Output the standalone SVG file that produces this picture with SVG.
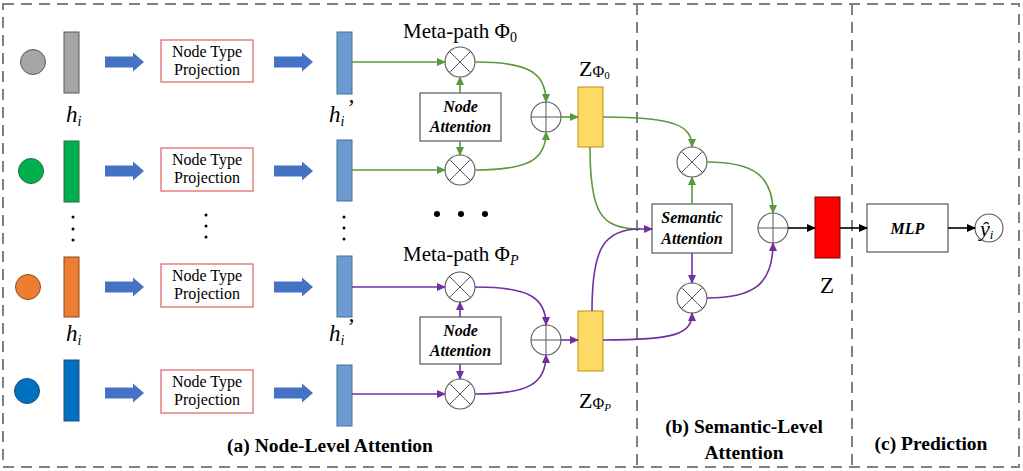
<svg xmlns="http://www.w3.org/2000/svg" width="1023" height="471" viewBox="0 0 1023 471">
<defs>
<style>
.frame{fill:none;stroke:#808080;stroke-width:2;stroke-dasharray:11 7}
text{font-family:"Liberation Serif","Times New Roman",serif;fill:#000}
.ntp{font-size:16px;text-anchor:middle}
.bi{font-weight:bold;font-style:italic;font-size:16px;text-anchor:middle}
.title{font-weight:bold;font-size:19.5px;text-anchor:middle}
.ntpbox{fill:#fff;stroke:#e06c6c;stroke-width:1.3}
.abox{fill:#fff;stroke:#595959;stroke-width:1.2}
.op{fill:#fff;stroke:#595959;stroke-width:1.1}
.opl{stroke:#595959;stroke-width:1}
.barh{fill:#6d9bd1;stroke:#41719c;stroke-width:1}
.barz{fill:#ffd966;stroke:#bf9000;stroke-width:1}
.blk{fill:#4472c4}
.g{fill:none;stroke:#5a9a3c;stroke-width:1.6}
.p{fill:none;stroke:#7030a0;stroke-width:1.6}
.k{fill:none;stroke:#000;stroke-width:1.6}
.dot{fill:#000}
</style>
<marker id="mg" markerWidth="9" markerHeight="8" refX="8" refY="4" orient="auto" markerUnits="userSpaceOnUse"><path d="M0,0 L9,4 L0,8 Z" fill="#5a9a3c"/></marker>
<marker id="mp" markerWidth="9" markerHeight="8" refX="8" refY="4" orient="auto" markerUnits="userSpaceOnUse"><path d="M0,0 L9,4 L0,8 Z" fill="#7030a0"/></marker>
<marker id="mk" markerWidth="9" markerHeight="8" refX="8" refY="4" orient="auto" markerUnits="userSpaceOnUse"><path d="M0,0 L9,4 L0,8 Z" fill="#000"/></marker>
<g id="otimes"><circle class="op" cx="0" cy="0" r="15"/><path class="opl" d="M-10.6,-10.6 L10.6,10.6 M-10.6,10.6 L10.6,-10.6"/></g>
<g id="oplus"><circle class="op" cx="0" cy="0" r="15"/><path class="opl" d="M-15,0 H15 M0,-15 V15"/></g>
<path id="blkarrow" d="M0,-5.5 H28 V-9.5 L39,0 L28,9.5 V5.5 H0 Z"/>
</defs>

<!-- frames -->
<g id="frames">
<rect class="frame" x="3" y="4" width="1016" height="463"/>
<line class="frame" x1="637" y1="4" x2="637" y2="467"/>
<line class="frame" x1="852" y1="4" x2="852" y2="467"/>
</g>

<!-- input nodes -->
<g id="row1">
<circle cx="33" cy="62" r="12.5" fill="#a5a5a5" stroke="#595959" stroke-width="1"/>
<rect x="64" y="32" width="15" height="61" fill="#a5a5a5" stroke="#595959" stroke-width="1"/>
<use href="#blkarrow" class="blk" x="105" y="62"/>
<rect class="ntpbox" x="161" y="40" width="92" height="42"/>
<text class="ntp" x="207" y="57">Node Type</text>
<text class="ntp" x="207" y="75">Projection</text>
<use href="#blkarrow" class="blk" x="274" y="62"/>
<rect class="barh" x="337" y="32" width="15" height="62"/>
</g>
<g id="row2">
<circle cx="31" cy="171" r="12.5" fill="#00b050" stroke="#2e6b36" stroke-width="1"/>
<rect x="64" y="141" width="15" height="61" fill="#00b050" stroke="#2e6b36" stroke-width="1"/>
<use href="#blkarrow" class="blk" x="105" y="171"/>
<rect class="ntpbox" x="161" y="148" width="92" height="43"/>
<text class="ntp" x="207" y="165">Node Type</text>
<text class="ntp" x="207" y="183">Projection</text>
<use href="#blkarrow" class="blk" x="274" y="171"/>
<rect class="barh" x="337" y="140" width="15" height="61"/>
</g>
<g id="row3">
<circle cx="28" cy="287" r="12.5" fill="#ed7d31" stroke="#8a4a1c" stroke-width="1"/>
<rect x="64" y="257" width="15" height="60" fill="#ed7d31" stroke="#8a4a1c" stroke-width="1"/>
<use href="#blkarrow" class="blk" x="105" y="287"/>
<rect class="ntpbox" x="161" y="264" width="92" height="43"/>
<text class="ntp" x="207" y="281">Node Type</text>
<text class="ntp" x="207" y="299">Projection</text>
<use href="#blkarrow" class="blk" x="274" y="287"/>
<rect class="barh" x="337" y="256" width="15" height="61"/>
</g>
<g id="row4">
<circle cx="27" cy="391" r="12.5" fill="#0070c0" stroke="#1f4e79" stroke-width="1"/>
<rect x="64" y="360" width="15" height="61" fill="#0070c0" stroke="#1f4e79" stroke-width="1"/>
<use href="#blkarrow" class="blk" x="105" y="393"/>
<rect class="ntpbox" x="161" y="370" width="92" height="43"/>
<text class="ntp" x="207" y="387">Node Type</text>
<text class="ntp" x="207" y="405">Projection</text>
<use href="#blkarrow" class="blk" x="274" y="393"/>
<rect class="barh" x="337" y="365" width="15" height="61"/>
</g>

<!-- labels h_i -->
<g id="labels-h" font-size="23" font-style="italic">
<text x="66" y="122">h<tspan font-size="14" dy="4">i</tspan></text>
<text x="66" y="341">h<tspan font-size="14" dy="4">i</tspan></text>
<text x="329" y="122">h<tspan font-size="14" dy="4">i</tspan><tspan font-style="normal" dy="-11" dx="3">’</tspan></text>
<text x="329" y="341">h<tspan font-size="14" dy="4">i</tspan><tspan font-style="normal" dy="-11" dx="3">’</tspan></text>
</g>

<!-- ellipsis dots -->
<g id="dots">
<circle class="dot" cx="73" cy="217" r="1.5"/><circle class="dot" cx="73" cy="229" r="1.5"/><circle class="dot" cx="73" cy="240" r="1.5"/>
<circle class="dot" cx="206" cy="215" r="1.5"/><circle class="dot" cx="206" cy="226" r="1.5"/><circle class="dot" cx="206" cy="237" r="1.5"/>
<circle class="dot" cx="344" cy="217" r="1.5"/><circle class="dot" cx="344" cy="228" r="1.5"/><circle class="dot" cx="344" cy="239" r="1.5"/>
<circle class="dot" cx="437" cy="214" r="3"/><circle class="dot" cx="461" cy="214" r="3"/><circle class="dot" cx="485" cy="214" r="3"/>
</g>

<!-- meta-path 0 -->
<g id="metapath0">
<text x="403" y="38" font-size="21">Meta-path Φ<tspan font-size="14" dy="4">0</tspan></text>
<use href="#otimes" x="460" y="62"/>
<use href="#otimes" x="460" y="170"/>
<rect class="abox" x="420" y="93" width="81" height="48"/>
<text class="bi" x="460.5" y="112">Node</text>
<text class="bi" x="460.5" y="132">Attention</text>
<use href="#oplus" x="546" y="117"/>
<rect class="barz" x="578" y="87" width="25" height="60"/>
<text x="579" y="76" font-size="22">Z<tspan font-size="16" dy="1">Φ</tspan><tspan font-size="11" dy="2">0</tspan></text>
</g>

<!-- meta-path P -->
<g id="metapathP">
<text x="403" y="261" font-size="21">Meta-path Φ<tspan font-size="14" font-style="italic" dy="4">P</tspan></text>
<use href="#otimes" x="460" y="287"/>
<use href="#otimes" x="460" y="394"/>
<rect class="abox" x="420" y="317" width="81" height="47"/>
<text class="bi" x="460.5" y="336">Node</text>
<text class="bi" x="460.5" y="356">Attention</text>
<use href="#oplus" x="546" y="340"/>
<rect class="barz" x="578" y="311" width="25" height="60"/>
<text x="579" y="408" font-size="22">Z<tspan font-size="16" dy="1">Φ</tspan><tspan font-size="11" font-style="italic" dy="2">P</tspan></text>
</g>

<!-- semantic level -->
<g id="semantic">
<use href="#otimes" x="692" y="162"/>
<use href="#otimes" x="692" y="298"/>
<rect class="abox" x="652" y="204" width="80" height="49"/>
<text class="bi" x="692" y="223">Semantic</text>
<text class="bi" x="692" y="244">Attention</text>
<use href="#oplus" x="773" y="228"/>
</g>

<g id="z">
<rect x="815" y="197" width="25" height="61" fill="#ff0000" stroke="#7f0000" stroke-width="1"/>
<text x="820" y="293" font-size="23">Z</text>
</g>

<g id="mlp">
<rect class="abox" x="867" y="204" width="81" height="48"/>
<text class="bi" x="907.5" y="234">MLP</text>
</g>

<g id="yhat">
<circle class="op" cx="989" cy="228" r="14"/>
<text x="980" y="236" font-size="22" font-style="italic">ŷ<tspan font-size="13" dy="3">i</tspan></text>
</g>

<!-- titles -->
<g id="titles">
<text class="title" x="330" y="452">(a) Node-Level Attention</text>
<text class="title" x="744" y="433">(b) Semantic-Level</text>
<text class="title" x="744" y="459">Attention</text>
<text class="title" x="931" y="450">(c) Prediction</text>
</g>

<!-- connectors -->
<g id="connectors">
<path class="g" d="M352,62 H445" marker-end="url(#mg)"/>
<path class="g" d="M352,170 H445" marker-end="url(#mg)"/>
<path class="g" d="M460,93 V77" marker-end="url(#mg)"/>
<path class="g" d="M460,141 V155" marker-end="url(#mg)"/>
<path class="g" d="M475,62 C528,62 546,72 546,102" marker-end="url(#mg)"/>
<path class="g" d="M475,170 C528,170 546,160 546,132" marker-end="url(#mg)"/>
<path class="g" d="M561,117 H578" marker-end="url(#mg)"/>
<path class="g" d="M603,117 C676,117 692,126 692,147" marker-end="url(#mg)"/>
<path class="g" d="M590,147 C590,212 600,229 640,229"/>
<path class="g" d="M692,204 V177" marker-end="url(#mg)"/>
<path class="g" d="M707,162 C754,162 773,176 773,213" marker-end="url(#mg)"/>

<path class="p" d="M352,287 H445" marker-end="url(#mp)"/>
<path class="p" d="M352,394 H445" marker-end="url(#mp)"/>
<path class="p" d="M460,317 V302" marker-end="url(#mp)"/>
<path class="p" d="M460,364 V379" marker-end="url(#mp)"/>
<path class="p" d="M475,287 C528,287 546,297 546,325" marker-end="url(#mp)"/>
<path class="p" d="M475,394 C528,394 546,384 546,355" marker-end="url(#mp)"/>
<path class="p" d="M561,340 H578" marker-end="url(#mp)"/>
<path class="p" d="M592,311 C592,248 604,229 640,229 H652" marker-end="url(#mp)"/>
<path class="p" d="M603,340 C676,340 692,334 692,313" marker-end="url(#mp)"/>
<path class="p" d="M692,253 V283" marker-end="url(#mp)"/>
<path class="p" d="M707,298 C754,298 773,284 773,243" marker-end="url(#mp)"/>

<path class="k" d="M788,228 H815" marker-end="url(#mk)"/>
<path class="k" d="M840,228 H867" marker-end="url(#mk)"/>
<path class="k" d="M948,228 H975" marker-end="url(#mk)"/>
</g>
</svg>
